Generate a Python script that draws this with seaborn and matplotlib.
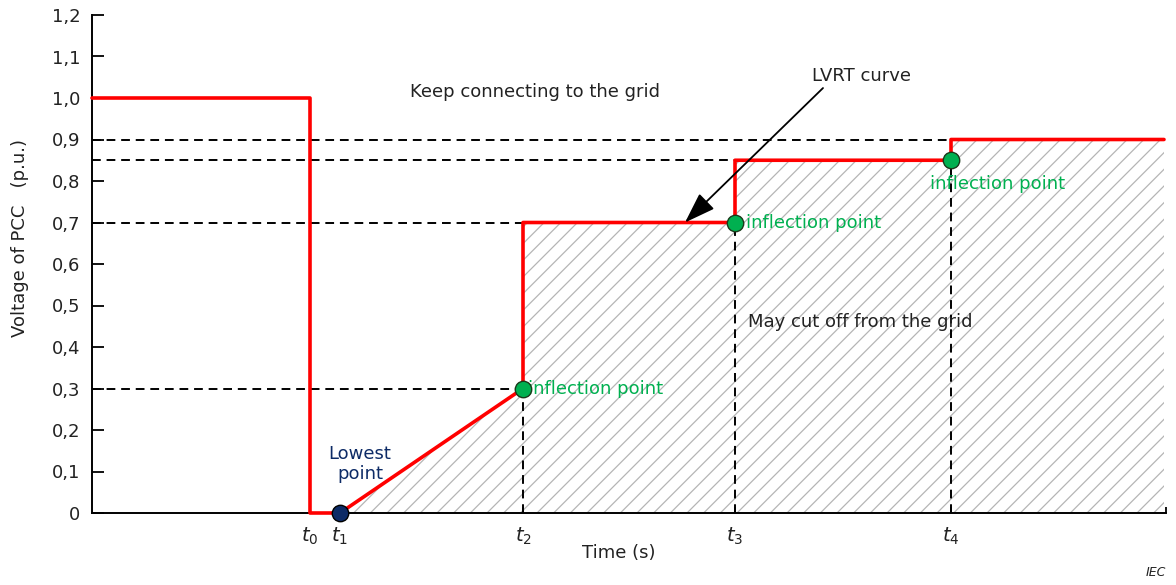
import matplotlib
matplotlib.use("Agg")
import matplotlib.pyplot as plt
import seaborn as sns
import pandas as pd

# Characteristic times (arbitrary time units) and the LVRT boundary
t_labels = ["$t_0$", "$t_1$", "$t_2$", "$t_3$", "$t_4$"]
t_values = [2.18, 2.48, 4.31, 6.43, 8.59]
t_end = 10.74

curve_time = [0.0, 2.18, 2.18, 2.48, 4.31, 4.31, 6.43, 6.43, 8.59, 8.59, 10.72]
curve_volt = [1.0, 1.0, 0.0, 0.0, 0.30, 0.70, 0.70, 0.85, 0.85, 0.90, 0.90]

# Inflection points and the lowest point
infl_time = [4.31, 6.43, 8.59]
infl_volt = [0.30, 0.70, 0.85]
low_time = [2.48]
low_volt = [0.0]

y_ticks = [0.0, 0.1, 0.2, 0.3, 0.4, 0.5, 0.6, 0.7, 0.8, 0.9, 1.0, 1.1, 1.2]
y_tick_labels = ["0", "0,1", "0,2", "0,3", "0,4", "0,5", "0,6", "0,7", "0,8",
                 "0,9", "1,0", "1,1", "1,2"]

sns.set_theme(style="white")
plt.rcParams["font.family"] = ["DejaVu Sans"]
plt.rcParams["mathtext.fontset"] = "dejavusans"
plt.rcParams["hatch.linewidth"] = 0.9

fig = plt.figure(figsize=(11.76, 5.85), dpi=100)
ax = fig.add_axes([92 / 1176, 72 / 585, 1074 / 1176, 498 / 585])

RED = "#ff0000"
GREEN = "#00b050"
NAVY = "#0d2b66"
TXT = "#222222"
FS = 13

# Hatched region under the boundary, from the lowest point onward
ax.fill_between(curve_time[3:], 0, curve_volt[3:], facecolor="none",
                edgecolor="#b5b5b5", hatch="//", linewidth=0, zorder=1)

# Dashed reference lines
dash = dict(color="black", lw=1.4, ls=(0, (4.5, 3)), zorder=2)
ax.plot([0, t_values[4]], [0.90, 0.90], **dash)
ax.plot([0, t_values[3]], [0.85, 0.85], **dash)
ax.plot([0, t_values[2]], [0.70, 0.70], **dash)
ax.plot([0, t_values[2]], [0.30, 0.30], **dash)
for tv, vv in zip(infl_time, infl_volt):
    ax.plot([tv, tv], [0, vv], **dash)

# LVRT boundary curve (kept in drawing order, no aggregation)
df_curve = pd.DataFrame({"time": curve_time, "volt": curve_volt})
sns.lineplot(data=df_curve, x="time", y="volt", sort=False, estimator=None,
             errorbar=None, color=RED, lw=2.6, ax=ax, zorder=4, clip_on=False)

# Points
sns.scatterplot(x=infl_time, y=infl_volt, s=140, color=GREEN,
                edgecolor="#1a3a1a", linewidth=1.0, ax=ax, zorder=5, clip_on=False)
sns.scatterplot(x=low_time, y=low_volt, s=140, color=NAVY,
                edgecolor="black", linewidth=1.0, ax=ax, zorder=5, clip_on=False)

# Annotations
ax.text(3.18, 1.014, "Keep connecting to the grid", fontsize=FS, color=TXT,
        va="center", ha="left")
ax.text(6.56, 0.46, "May cut off from the grid", fontsize=FS, color=TXT,
        va="center", ha="left")
ax.text(4.36, 0.298, "inflection point", fontsize=FS, color=GREEN,
        va="center", ha="left")
ax.text(6.54, 0.698, "inflection point", fontsize=FS, color=GREEN,
        va="center", ha="left")
ax.text(8.38, 0.793, "inflection point", fontsize=FS, color=GREEN,
        va="center", ha="left")
ax.text(2.68, 0.118, "Lowest\npoint", fontsize=FS, color=NAVY,
        va="center", ha="center", linespacing=1.15)
ax.text(7.69, 1.052, "LVRT curve", fontsize=FS, color=TXT, ha="center",
        va="center", zorder=6)
ax.annotate("", xy=(5.93, 0.70), xytext=(7.31, 1.024), zorder=6,
            arrowprops=dict(arrowstyle="-|>,head_length=1.6,head_width=0.55",
                            color="black", lw=1.3, shrinkA=0, shrinkB=0))

# Axes
ax.set_xlim(0, t_end)
ax.set_ylim(0, 1.2)
ax.set_yticks(y_ticks)
ax.set_yticklabels(y_tick_labels, fontsize=FS, color=TXT)
ax.set_xticks(t_values + [t_end])
ax.set_xticklabels(t_labels + [""], fontsize=14, color=TXT)
ax.tick_params(axis="y", direction="in", length=8.5, width=1.3, pad=8.5,
               left=True, color="black")
ax.tick_params(axis="x", direction="in", length=4, width=1.3, pad=9,
               bottom=True, color="black")
for side in ("top", "right"):
    ax.spines[side].set_visible(False)
for side in ("left", "bottom"):
    ax.spines[side].set_color("black")
    ax.spines[side].set_linewidth(1.4)

ax.set_xlabel("Time (s)", fontsize=FS, color=TXT)
ax.xaxis.set_label_coords(0.49, -0.062)
ax.set_ylabel("Voltage of PCC   (p.u.)", fontsize=FS, color=TXT)
ax.yaxis.set_label_coords(-0.059, 0.552)

fig.text(1166 / 1176, 1 - 573 / 585, "IEC", fontsize=9, style="italic",
         color=TXT, ha="right", va="center")

fig.savefig("out.png", dpi=100)
